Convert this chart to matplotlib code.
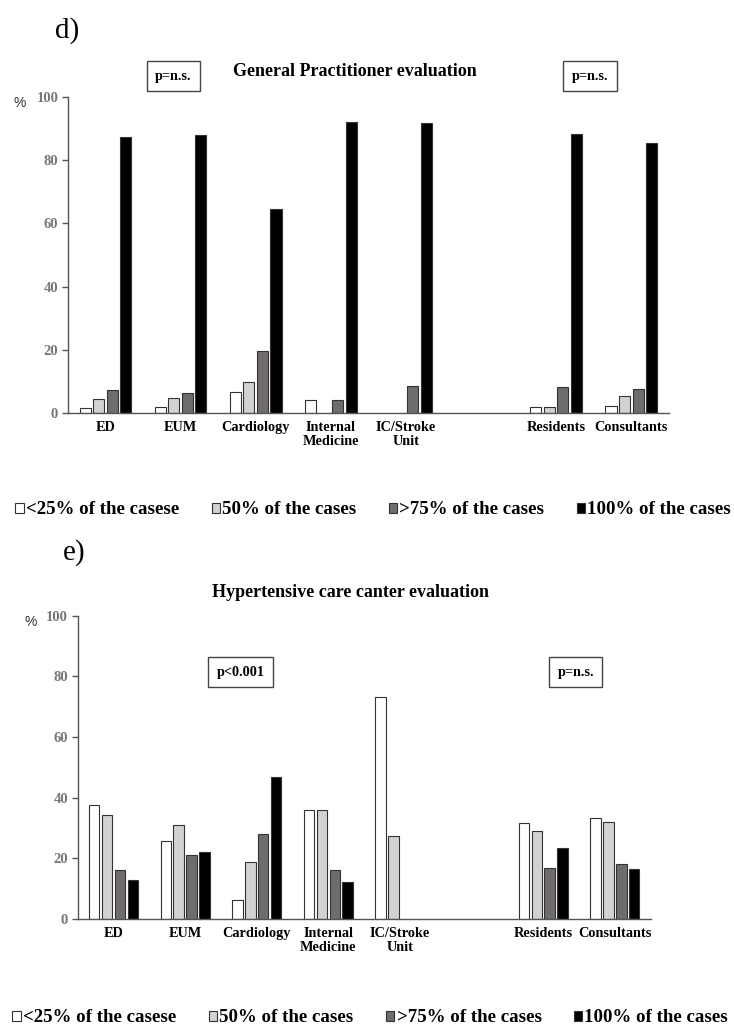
import matplotlib
matplotlib.use("Agg")
import matplotlib.pyplot as plt
import numpy as np

# categories and group positions (one empty slot between units and staff)
categories = ["ED", "EUM", "Cardiology", "Internal\nMedicine", "IC/Stroke\nUnit",
              "Residents", "Consultants"]
positions = [0, 1, 2, 3, 4, 6, 7]
series_labels = ["<25% of the casese", "50% of the cases", ">75% of the cases",
                 "100% of the cases"]

# d) General Practitioner evaluation (%)
gp_lt25 = [1.6, 1.9, 6.5, 4.1, 0.0, 2.0, 2.3]
gp_50 = [4.5, 4.6, 9.8, 0.0, 0.0, 2.0, 5.3]
gp_gt75 = [7.4, 6.2, 19.6, 4.1, 8.4, 8.2, 7.6]
gp_100 = [87.4, 87.9, 64.5, 92.1, 91.9, 88.4, 85.4]

# e) Hypertensive care center evaluation (%)
hc_lt25 = [37.6, 25.6, 6.2, 36.0, 73.0, 31.5, 33.3]
hc_50 = [34.1, 31.0, 18.6, 36.0, 27.3, 29.0, 32.0]
hc_gt75 = [16.0, 21.0, 28.1, 16.1, 0.0, 16.6, 18.0]
hc_100 = [12.9, 22.0, 46.9, 12.1, 0.0, 23.5, 16.4]

COLORS = ["#ffffff", "#d2d2d2", "#6f6b6f", "#000000"]
SERIF = "Liberation Serif"
TICK_GREY = "#777777"
SPINE_GREY = "#555555"


def draw_panel(ax, series, pbox_left, pbox_right, pbox_y):
    pitch = 0.18
    width = 0.147
    x = np.array(positions, dtype=float)
    handles = []
    for i, values in enumerate(series):
        bars = ax.bar(x + (i - 1.5) * pitch, values, width=width, color=COLORS[i],
                      edgecolor="#333333", linewidth=0.8, label=series_labels[i])
        for rect, v in zip(bars, values):
            if v == 0:
                rect.set_visible(False)
        handles.append(bars)

    ax.set_xlim(-0.5, 7.5)
    ax.set_ylim(0, 100)
    ax.set_yticks([0, 20, 40, 60, 80, 100])
    ax.set_xticks(positions)
    ax.set_xticklabels(categories, fontfamily=SERIF, fontweight="bold", fontsize=10.3,
                       linespacing=1.1)
    for lab in ax.get_yticklabels():
        lab.set_fontfamily(SERIF)
        lab.set_fontweight("bold")
        lab.set_fontsize(10.5)
        lab.set_color(TICK_GREY)
    ax.tick_params(axis="x", length=0, pad=6)
    ax.tick_params(axis="y", length=4, width=1, color=SPINE_GREY, pad=3)
    for side in ["top", "right"]:
        ax.spines[side].set_visible(False)
    for side in ["left", "bottom"]:
        ax.spines[side].set_color(SPINE_GREY)
        ax.spines[side].set_linewidth(1.0)

    box = dict(boxstyle="square,pad=0.6", facecolor="white", edgecolor="#444444",
               linewidth=1.0)
    for xpos, txt in (pbox_left, pbox_right):
        ax.text(xpos, pbox_y, txt, transform=ax.transAxes, ha="center", va="center",
                fontfamily=SERIF, fontweight="bold", fontsize=10.3, bbox=box,
                clip_on=False)
    return handles


fig = plt.figure(figsize=(7.34, 10.28), dpi=100)

ax_d = fig.add_axes([0.0926, 0.5983, 0.8186, 0.3073])
h_d = draw_panel(ax_d, [gp_lt25, gp_50, gp_gt75, gp_100],
                 (0.1755, "p=n.s."), (0.869, "p=n.s."), 1.066)

ax_e = fig.add_axes([0.1059, 0.1063, 0.7806, 0.2948])
h_e = draw_panel(ax_e, [hc_lt25, hc_50, hc_gt75, hc_100],
                 (0.284, "p<0.001"), (0.869, "p=n.s."), 0.814)

# panel letters, titles, % labels
fig.text(0.0749, 0.9705, "d)", fontfamily=SERIF, fontsize=21, ha="left", va="center")
fig.text(0.0860, 0.4625, "e)", fontfamily=SERIF, fontsize=21, ha="left", va="center")
fig.text(0.4837, 0.930, "General Practitioner evaluation", fontfamily=SERIF,
         fontweight="bold", fontsize=13, ha="center", va="center")
fig.text(0.4775, 0.4241, "Hypertensive care canter evaluation", fontfamily=SERIF,
         fontweight="bold", fontsize=13, ha="center", va="center")
fig.text(0.027, 0.8998, "%", fontfamily="Liberation Sans", fontsize=10, ha="center",
         va="center", color="#333333")
fig.text(0.042, 0.395, "%", fontfamily="Liberation Sans", fontsize=10, ha="center",
         va="center", color="#333333")

legend_kw = dict(ncol=4, frameon=False, loc="center left", borderpad=0,
                 borderaxespad=0, handlelength=0.45, handleheight=0.45,
                 handletextpad=0.12, columnspacing=1.7,
                 prop={"family": SERIF, "weight": "bold", "size": 13.6})
fig.legend(h_d, series_labels, bbox_to_anchor=(0.021, 1 - 510 / 1028), **legend_kw)
fig.legend(h_e, series_labels, bbox_to_anchor=(0.017, 1 - 1018 / 1028), **legend_kw)

fig.savefig("out.png", dpi=100)
